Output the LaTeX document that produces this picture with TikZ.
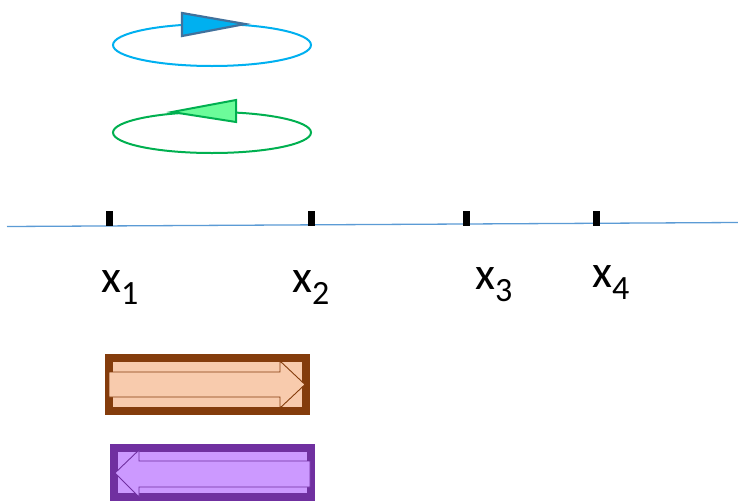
\documentclass[tikz,border=0pt]{standalone}
\usepackage{fontspec}
\setmainfont{Carlito}
\definecolor{lineblue}{HTML}{5B9BD5}
\definecolor{cyanc}{HTML}{00B0F0}
\definecolor{slatec}{HTML}{41719C}
\definecolor{greenc}{HTML}{00B050}
\definecolor{lightgreen}{HTML}{6CFC9A}
\definecolor{boxbrown}{HTML}{843C0C}
\definecolor{peach}{HTML}{F8CBAD}
\definecolor{purp}{HTML}{7030A0}
\definecolor{lilac}{HTML}{CC99FF}
\newcommand\xlab[1]{{\fontsize{46}{46}\selectfont x}\raisebox{-12pt}{\fontsize{34}{34}\selectfont #1}}
\tikzset{
  tickmark/.style={fill=black, draw=none, minimum width=7pt, minimum height=15pt, inner sep=0pt},
  xlabel/.style={anchor=base west, inner sep=0pt},
  orbit/.style={line width=2pt},
  boxframe/.style={line width=8pt},
  blockarrow/.style={line width=0.9pt, line join=miter}
}
\begin{document}
\begin{tikzpicture}[x=1pt,y=-1pt]
\useasboundingbox (0,0) rectangle (738,501);
\fill[white] (0,0) rectangle (738,501);
% orbits
\draw[orbit, cyanc] (212,45) ellipse [x radius=99, y radius=21];
\draw[slatec, fill=cyanc, line width=2.2pt, line join=miter] (182,13) -- (245,24) -- (182,36) -- cycle;
\draw[orbit, greenc] (212,132.5) ellipse [x radius=99, y radius=20.5];
\draw[greenc, fill=lightgreen, line width=2pt, line join=miter] (236,100) -- (172,112) -- (236,122) -- cycle;
% axis
\coordinate (la) at (7,226.5);
\coordinate (lb) at (738,222.5);
\draw[lineblue, line width=1.3pt] (la) -- (lb);
\node[tickmark] (t1) at (109,218.5) {};
\node[tickmark] (t2) at (311,218.5) {};
\node[tickmark] (t3) at (466,218.5) {};
\node[tickmark] (t4) at (596.5,218.5) {};
\node[xlabel] (l1) at (101,292) {\xlab{1}};
\node[xlabel] (l2) at (292,292) {\xlab{2}};
\node[xlabel] (l3) at (475,289) {\xlab{3}};
\node[xlabel] (l4) at (592,287) {\xlab{4}};
% brown box with right arrow
\draw[boxframe, boxbrown, fill=peach] (109,358) rectangle (306,410.5);
\draw[blockarrow, boxbrown, fill=peach] (109,372) -- (280,372) -- (280,361) -- (305,384.5) -- (280,408) -- (280,397) -- (109,397) -- cycle;
% purple box with left arrow
\draw[boxframe, purp, fill=lilac] (114,448) rectangle (310.5,497);
\draw[blockarrow, purp, fill=lilac] (310,461) -- (139,461) -- (139,450) -- (115,473) -- (139,497) -- (139,487) -- (310,487) -- cycle;
\end{tikzpicture}
\end{document}
